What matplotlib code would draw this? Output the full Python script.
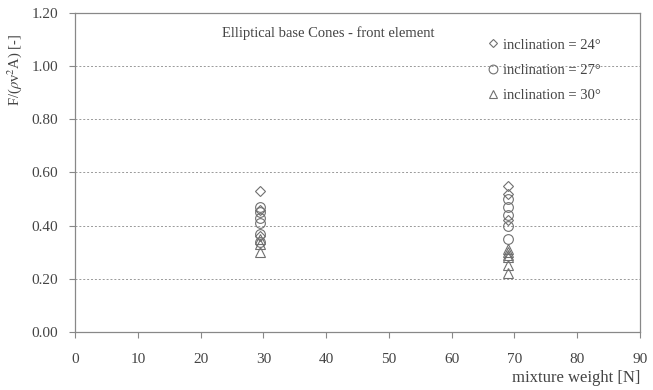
import matplotlib
matplotlib.use('Agg')
import matplotlib.pyplot as plt

plt.rcParams['font.family'] = ['Liberation Serif', 'DejaVu Serif']
plt.rcParams['mathtext.fontset'] = 'stix'

# data
x_24 = [29.5, 29.5, 29.5, 69, 69, 69]
y_24 = [0.53, 0.46, 0.36, 0.55, 0.52, 0.42]
x_27 = [29.5, 29.5, 29.5, 29.5, 29.5, 29.5, 69, 69, 69, 69, 69]
y_27 = [0.47, 0.45, 0.43, 0.41, 0.37, 0.34, 0.50, 0.47, 0.44, 0.40, 0.35]
x_30 = [29.5, 29.5, 29.5, 69, 69, 69, 69, 69, 69]
y_30 = [0.35, 0.33, 0.30, 0.31, 0.30, 0.29, 0.28, 0.25, 0.22]
labels = ['inclination = 24°', 'inclination = 27°', 'inclination = 30°']

gray = '#707070'
txt = '#444444'

fig = plt.figure(figsize=(6.53, 3.9), dpi=100)
ax = fig.add_axes([0.115, 0.149, 0.865, 0.818])

mk = dict(linestyle='none', markerfacecolor='none', markeredgecolor=gray,
          markeredgewidth=0.8)
ax.plot(x_24, y_24, marker='D', markersize=5, label=labels[0], **mk)
ax.plot(x_27, y_27, marker='o', markersize=7, label=labels[1], **mk)
ax.plot(x_30, y_30, marker='^', markersize=7, label=labels[2], **mk)

ax.set_xlim(0, 90)
ax.set_ylim(0, 1.2)
ax.set_xticks(range(0, 91, 10))
ax.set_yticks([0, 0.2, 0.4, 0.6, 0.8, 1.0, 1.2])
ax.set_yticklabels(['%.2f' % v for v in ax.get_yticks()])
for v in [0.2, 0.4, 0.6, 0.8, 1.0]:
    ax.axhline(v, color='#999999', linestyle=(0, (2, 2)), linewidth=0.7, zorder=0)

for s in ax.spines.values():
    s.set_color('#888888')
    s.set_linewidth(0.9)
ax.tick_params(direction='out', length=4, width=0.8, color='#888888',
               labelcolor=txt, labelsize=11)
ax.tick_params(axis='x', pad=11)
ax.tick_params(axis='y', pad=8)

ax.text(0.26, 0.937, 'Elliptical base Cones - front element', transform=ax.transAxes,
        fontsize=10.5, color=txt, va='center')
leg = ax.legend(loc='upper left', bbox_to_anchor=(0.729, 0.92), frameon=False,
                fontsize=10.5, handletextpad=0.28, labelspacing=0.83, borderpad=0,
                borderaxespad=0, labelcolor=txt, handlelength=0.8, markerscale=0.9)

fig.text(0.023, 0.82, r'F/($\rho$v$^2$A) [-]', rotation=90, ha='center', va='center',
         fontsize=10.5, color=txt)
fig.text(0.98, 0.01, 'mixture weight [N]', ha='right', va='bottom', fontsize=12,
         color=txt)

fig.savefig('out.png', dpi=100)
